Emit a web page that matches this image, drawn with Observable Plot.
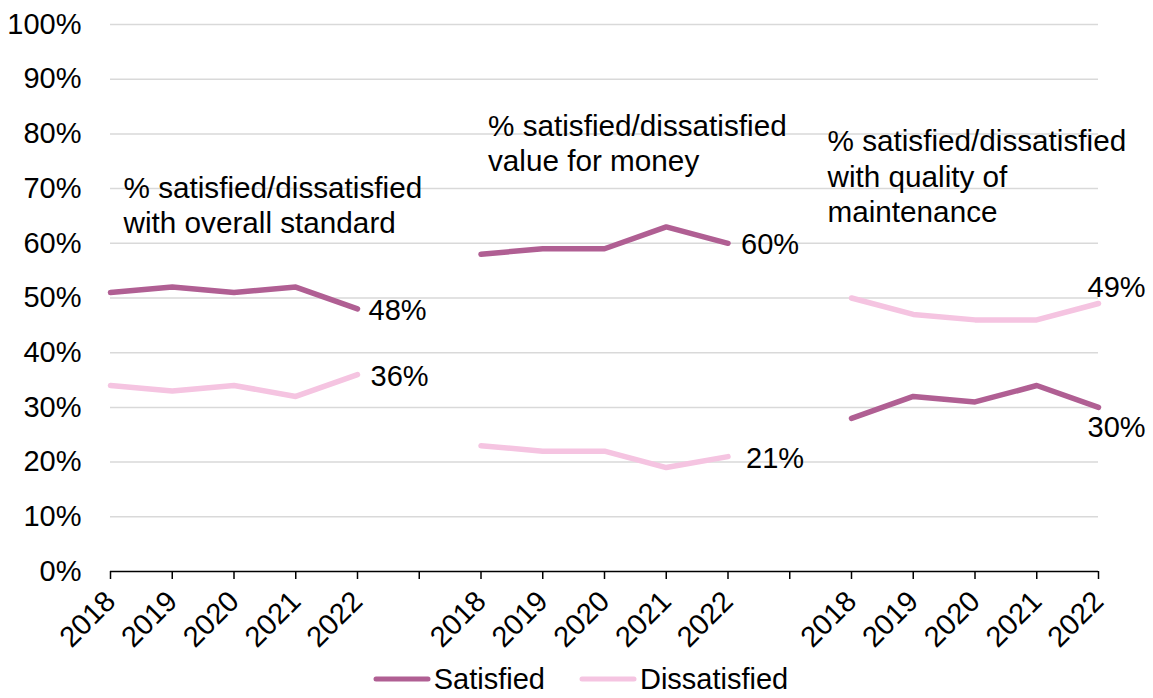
<!DOCTYPE html>
<html>
<head>
<meta charset="utf-8">
<script src="https://cdn.jsdelivr.net/npm/d3@7"></script>
<script src="https://cdn.jsdelivr.net/npm/@observablehq/plot@0.6"></script>
<style>
  html, body { margin: 0; padding: 0; background: #fff; }
  body { width: 1153px; height: 698px; overflow: hidden; font-family: "Liberation Sans", Arial, sans-serif; }
  #legend { display: flex; justify-content: center; align-items: center; height: 38px; font-size: 29px; color: #000; padding-left: 8px; }
  #legend .item { display: flex; align-items: center; margin: 0 17px; }
  #legend svg { margin-right: 3px; }
</style>
</head>
<body>
<div id="chart"></div>
<div id="legend"></div>
<script>
// ---- Data ----
const years = ["2018", "2019", "2020", "2021", "2022"];
const seriesNames = ["Satisfied", "Dissatisfied"];
const seriesColors = ["#B05F93", "#F5C4E1"];
const groupNames = ["overall", "value", "maintenance"];
const groupTitles = [
  "% satisfied/dissatisfied\nwith overall standard",
  "% satisfied/dissatisfied\nvalue for money",
  "% satisfied/dissatisfied\nwith quality of\nmaintenance"
];
const satisfiedOverall = [51, 52, 51, 52, 48];
const dissatisfiedOverall = [34, 33, 34, 32, 36];
const satisfiedValue = [58, 59, 59, 63, 60];
const dissatisfiedValue = [23, 22, 22, 19, 21];
const satisfiedMaintenance = [28, 32, 31, 34, 30];
const dissatisfiedMaintenance = [50, 47, 46, 46, 49];
const yTicks = [0, 10, 20, 30, 40, 50, 60, 70, 80, 90, 100];

// ---- Build table ----
const seriesByGroup = [
  [satisfiedOverall, dissatisfiedOverall],
  [satisfiedValue, dissatisfiedValue],
  [satisfiedMaintenance, dissatisfiedMaintenance]
];
const xDomain = [];
const xLabel = {};
groupNames.forEach((g, gi) => {
  if (gi > 0) { const k = "gap" + gi; xDomain.push(k); xLabel[k] = ""; }
  years.forEach(y => { const k = g + "-" + y; xDomain.push(k); xLabel[k] = y; });
});
const rows = [];
groupNames.forEach((g, gi) => {
  seriesNames.forEach((s, si) => {
    seriesByGroup[gi][si].forEach((v, yi) => {
      rows.push({group: g, gi, series: s, si, key: g + "-" + years[yi], value: v, last: yi === years.length - 1});
    });
  });
});
const lastRows = rows.filter(d => d.last);
const titleRows = groupNames.map((g, gi) => ({group: g, gi, key: g + "-" + years[0], text: groupTitles[gi]}));

// label placement (styles, in code)
const labelOffsets = {
  "overall|Satisfied": [11, 2], "overall|Dissatisfied": [13, 2],
  "value|Satisfied": [13, 1], "value|Dissatisfied": [18, 2],
  "maintenance|Satisfied": [-11, 20], "maintenance|Dissatisfied": [-11, -16]
};
const titleOffsets = [[13, 73], [7, 84.3], [-24, 81.5]];

const font = "Liberation Sans, Arial, sans-serif";
const marks = [
  Plot.ruleY(yTicks.filter(t => t > 0), {stroke: "#d9d9d9", strokeWidth: 1.5}),
  Plot.axisY({ticks: yTicks, tickFormat: d => d + "%", tickSize: 0, tickPadding: 29, fontSize: 29, fill: "#000", label: null}),
  Plot.axisX({ticks: xDomain, tickFormat: k => xLabel[k], tickRotate: -45, tickSize: 8, tickPadding: 17, fontSize: 29, fill: "#000", stroke: "#000", strokeWidth: 1.5, label: null}),
  Plot.ruleY([0], {stroke: "#000", strokeWidth: 1.5}),
  Plot.line(rows, {x: "key", y: "value", z: d => d.group + d.series, stroke: "series", strokeWidth: 5.5, strokeLinecap: "round", strokeLinejoin: "round"}),
];
lastRows.forEach(d => {
  const [dx, dy] = labelOffsets[d.group + "|" + d.series];
  marks.push(Plot.text([d], {x: "key", y: "value", text: r => r.value + "%", dx, dy, textAnchor: "start", fontSize: 29, fill: "#000"}));
});
titleRows.forEach(d => {
  const [dx, yv] = titleOffsets[d.gi];
  marks.push(Plot.text([d], {x: "key", y: () => yv, text: "text", dx, textAnchor: "start", lineAnchor: "top", lineHeight: 1.2, fontSize: 29.7, fill: "#000"}));
});

const chart = Plot.plot({
  width: 1153,
  height: 660,
  marginLeft: 110,
  marginRight: 55,
  marginTop: 24,
  marginBottom: 89,
  style: {fontFamily: font, fontSize: "29px", color: "#000", background: "#fff"},
  x: {type: "point", domain: xDomain, padding: 0, round: false, axis: null},
  y: {domain: [0, 100], axis: null},
  color: {domain: seriesNames, range: seriesColors},
  marks
});
document.getElementById("chart").appendChild(chart);

// legend
const legend = document.getElementById("legend");
seriesNames.forEach((s, i) => {
  const item = document.createElement("div");
  item.className = "item";
  item.innerHTML = `<svg width="58" height="10"><line x1="3" y1="5" x2="55" y2="5" stroke="${seriesColors[i]}" stroke-width="5" stroke-linecap="round"/></svg><span>${s}</span>`;
  legend.appendChild(item);
});
</script>
</body>
</html>
